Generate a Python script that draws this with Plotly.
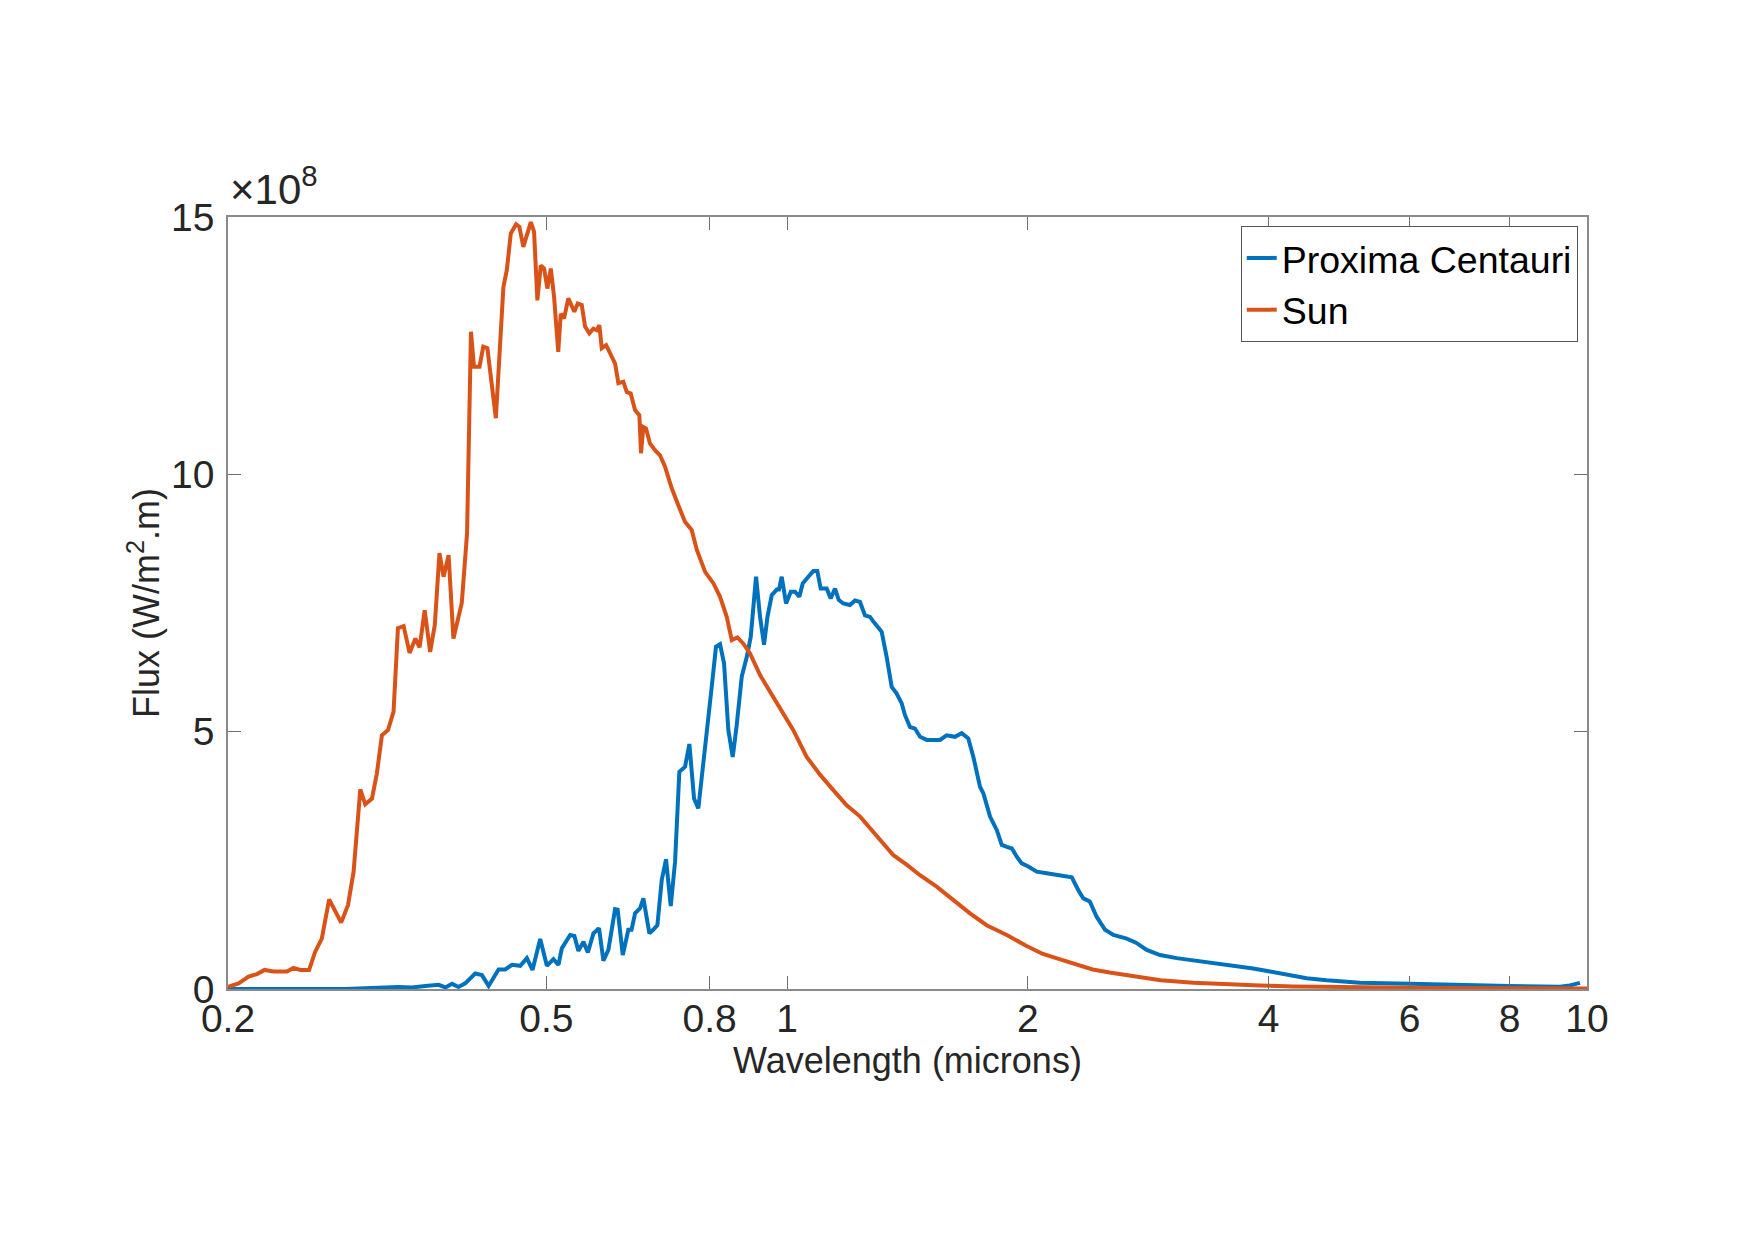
import plotly.graph_objects as go

# ---- data (wavelength in microns, flux in units of 1e8 W/m^2.m) ----
sun_wl = [0.200, 0.2062, 0.2122, 0.2174, 0.2222, 0.2280, 0.2370, 0.2415, 0.2462, 0.2526,
          0.2570, 0.2620, 0.2676, 0.2722, 0.2770, 0.2825, 0.2871, 0.2927, 0.2969, 0.3027,
          0.3070, 0.3115, 0.3170, 0.3221, 0.3262, 0.3316, 0.3373, 0.3430, 0.3472, 0.3523,
          0.3579, 0.3627, 0.3676, 0.3720, 0.3774, 0.3827, 0.3920, 0.3980, 0.4025, 0.4060,
          0.4125, 0.4170, 0.4220, 0.4324, 0.4419, 0.4463, 0.4514, 0.4584, 0.4627, 0.4680,
          0.4735, 0.4782, 0.4827, 0.4873, 0.4921, 0.4968, 0.5015, 0.5065, 0.5113, 0.5175,
          0.5212, 0.5262, 0.5327, 0.5379, 0.5420, 0.5473, 0.5537, 0.5590, 0.5660, 0.5725,
          0.5780, 0.5825, 0.5865, 0.5940, 0.6007, 0.6095, 0.6153, 0.6241, 0.6302, 0.6375,
          0.6455, 0.6536, 0.6567, 0.6611, 0.6663, 0.6738, 0.6837, 0.6936, 0.7037, 0.7174,
          0.7311, 0.7453, 0.7598, 0.7712, 0.7900, 0.8091, 0.8245, 0.8405, 0.8527, 0.8667,
          0.8817, 0.8988, 0.9251,
          0.9612, 0.980, 1.018, 1.058, 1.100, 1.143, 1.187, 1.234, 1.282, 1.319,
          1.358, 1.412, 1.466, 1.538, 1.614, 1.693, 1.776, 1.882, 1.99, 2.088,
          2.19, 2.30, 2.41, 2.53, 2.66, 2.93, 3.22, 3.54, 3.90, 4.29,
          5.2, 6.5, 8.0, 10.0]
sun_flux = [0.04, 0.11, 0.24, 0.29, 0.37, 0.34, 0.34, 0.41, 0.37, 0.37,
            0.72, 0.98, 1.74, 1.50, 1.29, 1.63, 2.28, 3.88, 3.59, 3.70,
            4.19, 4.93, 5.03, 5.39, 7.01, 7.05, 6.53, 6.81, 6.64, 7.36,
            6.55, 7.07, 8.47, 8.01, 8.43, 6.81, 7.50, 8.85, 12.77, 12.09,
            12.09, 12.48, 12.45, 11.09, 13.64, 13.97, 14.68, 14.86, 14.81, 14.42,
            14.71, 14.90, 14.71, 13.38, 14.06, 14.00, 13.61, 14.00, 13.45, 12.38,
            13.12, 13.03, 13.42, 13.29, 13.16, 13.32, 13.29, 12.87, 12.74, 12.83,
            12.80, 12.90, 12.45, 12.51, 12.35, 12.15, 11.77, 11.80, 11.60, 11.57,
            11.25, 11.15, 10.41, 10.92, 10.89, 10.60, 10.47, 10.37, 10.15, 9.73,
            9.40, 9.08, 8.92, 8.53, 8.10, 7.88, 7.62, 7.23, 6.78, 6.83,
            6.71, 6.52, 6.10,
            5.68, 5.48, 5.03, 4.51, 4.16, 3.86, 3.57, 3.35, 3.05, 2.83,
            2.60, 2.41, 2.21, 1.99, 1.73, 1.47, 1.24, 1.05, 0.84, 0.68,
            0.58, 0.47, 0.38, 0.32, 0.27, 0.17, 0.12, 0.09, 0.07, 0.05,
            0.03, 0.02, 0.015, 0.01]

prox_wl = [0.200, 0.280, 0.3267, 0.3396, 0.3530, 0.3668, 0.3740, 0.3812, 0.3883, 0.3959,
           0.4075, 0.4154, 0.4235, 0.4358, 0.4443, 0.4529, 0.4638, 0.4728, 0.4805, 0.4913,
           0.5008, 0.5104, 0.5178, 0.5228, 0.5355, 0.5421, 0.5484, 0.5564, 0.5635, 0.5726,
           0.5820, 0.5893, 0.5978, 0.6095, 0.6140, 0.6231, 0.6332, 0.6390, 0.6456, 0.6550,
           0.6612, 0.6727, 0.6800, 0.6884, 0.6971, 0.7057, 0.7154, 0.7243, 0.7333, 0.7455,
           0.7548, 0.7650, 0.7745, 0.7918, 0.8049, 0.8149, 0.8244, 0.8340, 0.8444, 0.8551,
           0.8650, 0.8776, 0.8903, 0.9006, 0.9145, 0.9251, 0.9358, 0.9450, 0.9567, 0.9706,
           0.9770, 0.9846, 0.9970, 1.0106, 1.0230, 1.0358, 1.0460, 1.0630, 1.0783, 1.0908,
           1.1015, 1.1207, 1.1337, 1.1479, 1.1600, 1.1755, 1.1984, 1.2159, 1.2335, 1.2513,
           1.2694, 1.2878, 1.3129, 1.3320, 1.3513, 1.3709, 1.3908, 1.4041, 1.4245, 1.4450,
           1.4661, 1.4946, 1.5235, 1.5530, 1.5829, 1.6213, 1.6530, 1.6847, 1.7094, 1.7425,
           1.7595, 1.7935, 1.8285, 1.8552, 1.8821, 1.9100, 1.9370, 1.9650, 2.0025, 2.0515,
           2.1114, 2.1937, 2.2300, 2.2693, 2.3126, 2.3460, 2.3900, 2.4385, 2.4975, 2.5581,
           2.6581, 2.7300, 2.8159, 2.9257, 3.069, 3.2188, 3.5439, 3.8259, 4.0146, 4.1711,
           4.4613, 4.7257, 5.2000, 6.0, 7.07, 8.0, 9.25, 9.52, 9.8]
prox_flux = [0, 0, 0.04, 0.03, 0.06, 0.08, 0.03, 0.10, 0.04, 0.11,
             0.30, 0.27, 0.06, 0.38, 0.38, 0.47, 0.45, 0.60, 0.37, 0.97,
             0.45, 0.58, 0.47, 0.79, 1.05, 1.03, 0.74, 0.92, 0.71, 1.08,
             1.18, 0.55, 0.76, 1.55, 1.54, 0.66, 1.15, 1.15, 1.47, 1.57,
             1.76, 1.08, 1.15, 1.24, 2.12, 2.52, 1.61, 2.47, 4.22, 4.32,
             4.76, 3.70, 3.51, 4.77, 5.87, 6.65, 6.70, 6.33, 5.03, 4.51,
             5.13, 6.07, 6.45, 6.84, 8.01, 7.23, 6.69, 7.23, 7.65, 7.76,
             7.76, 8.01, 7.49, 7.72, 7.72, 7.62, 7.88, 8.01, 8.12, 8.12,
             7.78, 7.78, 7.59, 7.78, 7.56, 7.49, 7.46, 7.55, 7.52, 7.26,
             7.23, 7.10, 6.94, 6.45, 5.87, 5.74, 5.55, 5.32, 5.09, 5.06,
             4.90, 4.84, 4.84, 4.84, 4.93, 4.90, 4.97, 4.87, 4.51, 3.93,
             3.80, 3.35, 3.09, 2.80, 2.76, 2.73, 2.57, 2.44, 2.38, 2.28,
             2.25, 2.21, 2.18, 2.17, 1.92, 1.76, 1.70, 1.40, 1.15, 1.05,
             0.98, 0.90, 0.76, 0.66, 0.60, 0.56, 0.47, 0.40, 0.34, 0.29,
             0.21, 0.17, 0.12, 0.10, 0.07, 0.06, 0.045, 0.07, 0.12]

x_tickvals = [0.2, 0.5, 0.8, 1, 2, 4, 6, 8, 10]
x_ticktext = ["0.2", "0.5", "0.8", "1", "2", "4", "6", "8", "10"]
y_tickvals = [0, 5, 10, 15]
y_ticktext = ["0", "5", "10", "15"]

BLUE = "#0072BD"
ORANGE = "#D95319"
FONT = "Liberation Sans, Arial, Helvetica, sans-serif"
TXT = "#262626"
AXC = "#8a8a8a"

fig = go.Figure()
fig.add_trace(go.Scatter(x=prox_wl, y=prox_flux, mode="lines", name="Proxima Centauri",
                         line=dict(color=BLUE, width=4)))
fig.add_trace(go.Scatter(x=sun_wl, y=sun_flux, mode="lines", name="Sun",
                         line=dict(color=ORANGE, width=4)))

fig.update_layout(
    width=1755, height=1240,
    margin=dict(l=228, r=168, t=217, b=251, autoexpand=False),
    paper_bgcolor="white", plot_bgcolor="white",
    font=dict(family=FONT, color=TXT, size=36),
    showlegend=True,
    legend=dict(x=0.9932, y=0.9883, xanchor="right", yanchor="top",
                bgcolor="white", bordercolor="#555555", borderwidth=1,
                font=dict(size=37.5, color="black", family=FONT),
                itemwidth=30, tracegroupgap=0),
)
fig.update_xaxes(
    type="log", range=[-0.69897, 1.0],
    tickvals=x_tickvals, ticktext=x_ticktext,
    ticks="inside", ticklen=13, tickcolor="#6e6e6e", tickwidth=1,
    showline=True, linecolor=AXC, linewidth=1.5, mirror="ticks",
    showgrid=False, zeroline=False,
    tickfont=dict(size=39, color=TXT), ticklabelstandoff=-6,
    title=dict(text="Wavelength (microns)", font=dict(size=36, color=TXT), standoff=0),
)
fig.update_yaxes(
    range=[0, 15],
    tickvals=y_tickvals, ticktext=y_ticktext,
    ticks="inside", ticklen=13, tickcolor="#6e6e6e", tickwidth=1,
    showline=True, linecolor=AXC, linewidth=1.5, mirror="ticks",
    showgrid=False, zeroline=False,
    tickfont=dict(size=39, color=TXT), ticklabelstandoff=4,
    title=dict(text="Flux (W/m<sup>2</sup>.m)", font=dict(size=36, color=TXT), standoff=0),
)
fig.add_annotation(
    text="×10<sup>8</sup>", xref="paper", yref="paper",
    x=0.0, y=1.0, xanchor="left", yanchor="bottom",
    xshift=0, yshift=2, showarrow=False,
    font=dict(size=42, color=TXT, family=FONT),
)

fig.write_html("out.html")
